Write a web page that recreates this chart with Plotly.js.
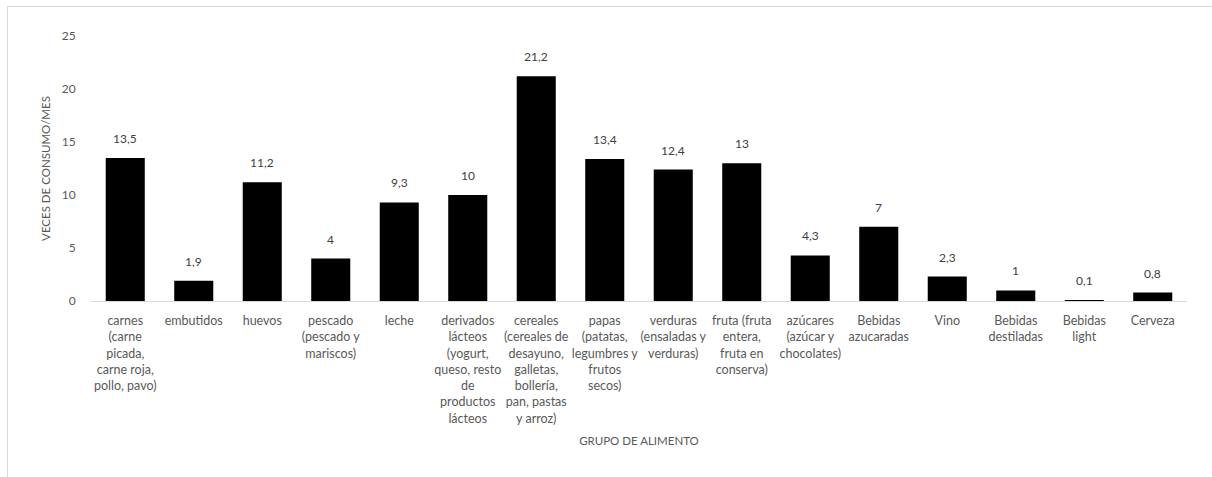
<!DOCTYPE html>
<html>
<head>
<meta charset="utf-8">
<script src="https://cdn.plot.ly/plotly-3.0.1.min.js"></script>
<style>
  body { margin: 0; background: #fff; }
  #chart { width: 1212px; height: 477px; position: absolute; left: 0; top: 0; }
  #frame { position: absolute; left: 7px; top: 6px; width: 1220px; height: 490px;
           border: 1px solid #d9d9d9; box-sizing: border-box; pointer-events: none; }
</style>
</head>
<body>
<div id="chart"></div>
<div id="frame"></div>
<script>
const categories = [
  "carnes<br>(carne<br>picada,<br>carne roja,<br>pollo, pavo)",
  "embutidos",
  "huevos",
  "pescado<br>(pescado y<br>mariscos)",
  "leche",
  "derivados<br>lácteos<br>(yogurt,<br>queso, resto<br>de<br>productos<br>lácteos",
  "cereales<br>(cereales de<br>desayuno,<br>galletas,<br>bollería,<br>pan, pastas<br>y arroz)",
  "papas<br>(patatas,<br>legumbres y<br>frutos<br>secos)",
  "verduras<br>(ensaladas y<br>verduras)",
  "fruta (fruta<br>entera,<br>fruta en<br>conserva)",
  "azúcares<br>(azúcar y<br>chocolates)",
  "Bebidas<br>azucaradas",
  "Vino",
  "Bebidas<br>destiladas",
  "Bebidas<br>light",
  "Cerveza"
];
const values = [13.5, 1.9, 11.2, 4, 9.3, 10, 21.2, 13.4, 12.4, 13, 4.3, 7, 2.3, 1, 0.1, 0.8];
const yTicks = [0, 5, 10, 15, 20, 25];
const yTitle = "VECES DE CONSUMO/MES";
const xTitle = "GRUPO DE ALIMENTO";

const fmt = v => String(v).replace('.', ',');
const FONT = "Lato, 'Open Sans', sans-serif";

const trace = {
  type: 'bar',
  x: categories,
  y: values,
  marker: { color: '#000000', line: { width: 0 } },
  hoverinfo: 'none'
};

const annotations = categories.map((c, i) => ({
  x: c, y: values[i], xref: 'x', yref: 'y',
  text: fmt(values[i]), showarrow: false,
  yanchor: 'bottom', yshift: 10,
  font: { family: FONT, size: 12, color: '#404040' }
}));

const layout = {
  width: 1212, height: 477,
  margin: { l: 91, r: 25, t: 36, b: 176 },
  paper_bgcolor: 'rgba(0,0,0,0)',
  plot_bgcolor: 'rgba(0,0,0,0)',
  bargap: 0.43,
  showlegend: false,
  font: { family: FONT, color: '#595959', size: 12 },
  xaxis: {
    type: 'category',
    showline: true, linecolor: '#d9d9d9', linewidth: 1,
    showgrid: false, zeroline: false,
    ticks: 'outside', ticklen: 8, tickcolor: 'rgba(0,0,0,0)',
    tickangle: 0,
    tickfont: { family: FONT, size: 12.5, color: '#595959' },
    title: { text: xTitle, font: { family: FONT, size: 11.5, color: '#595959' }, standoff: 12 },
    automargin: false
  },
  yaxis: {
    range: [0, 25],
    tickvals: yTicks,
    ticktext: yTicks.map(String),
    showline: false, showgrid: false, zeroline: false,
    ticks: 'outside', ticklen: 12, tickcolor: 'rgba(0,0,0,0)',
    tickfont: { family: FONT, size: 12, color: '#595959' },
    title: { text: yTitle, font: { family: FONT, size: 11.5, color: '#595959' }, standoff: 8 },
    automargin: false
  },
  annotations: annotations
};

Plotly.newPlot('chart', [trace], layout, { staticPlot: true, displayModeBar: false });
</script>
</body>
</html>
